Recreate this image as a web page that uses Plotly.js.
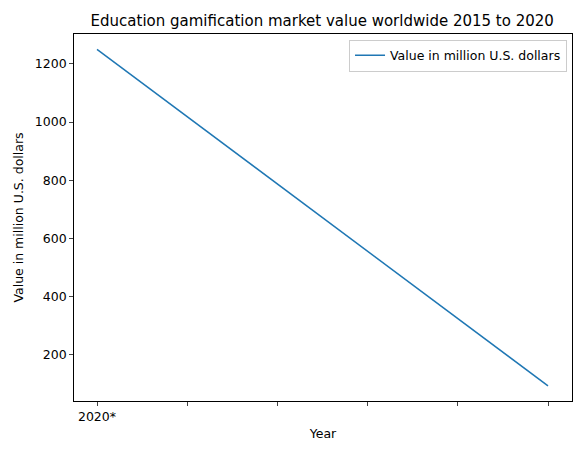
<!DOCTYPE html>
<html><head><script src="https://cdn.plot.ly/plotly-3.0.1.min.js"></script></head>
<body style="margin:0"><div id="c" style="width:588px;height:455px"></div>
<script>
const xPos = [0, 5];
const values = [1250, 93];
const tickPos = [0, 1, 2, 3, 4, 5];
const tickLabels = ["2020*", "", "", "", "", ""];
Plotly.newPlot('c', [{x: xPos, y: values, mode: 'lines', name: 'Value in million U.S. dollars',
  line: {color: '#1f77b4', width: 1.5}}], {
  width: 588, height: 455,
  margin: {l: 74, r: 16, t: 34, b: 54},
  font: {family: 'DejaVu Sans', size: 12.5, color: '#000'},
  title: {text: 'Education gamification market value worldwide 2015 to 2020', font: {size: 15}, x: 0.548, xanchor: 'center', y: 0.965},
  xaxis: {range: [-0.255, 5.266], tickvals: tickPos, ticktext: tickLabels, ticks: 'outside', ticklen: 4,
    showgrid: false, zeroline: false, showline: true, mirror: true, linecolor: '#000', linewidth: 0.8,
    title: {text: 'Year', font: {size: 12.5}, standoff: 6}},
  yaxis: {range: [41, 1303], tickvals: [200, 400, 600, 800, 1000, 1200], ticks: 'outside', ticklen: 4,
    showgrid: false, zeroline: false, showline: true, mirror: true, linecolor: '#000', linewidth: 0.8,
    title: {text: 'Value in million U.S. dollars', font: {size: 12.5}, standoff: 8}},
  showlegend: true,
  legend: {x: 0.99, y: 0.985, xanchor: 'right', yanchor: 'top', bordercolor: '#ccc', borderwidth: 1, font: {size: 12.5}},
  plot_bgcolor: '#fff', paper_bgcolor: '#fff'
}, {displayModeBar: false});
</script></body></html>
